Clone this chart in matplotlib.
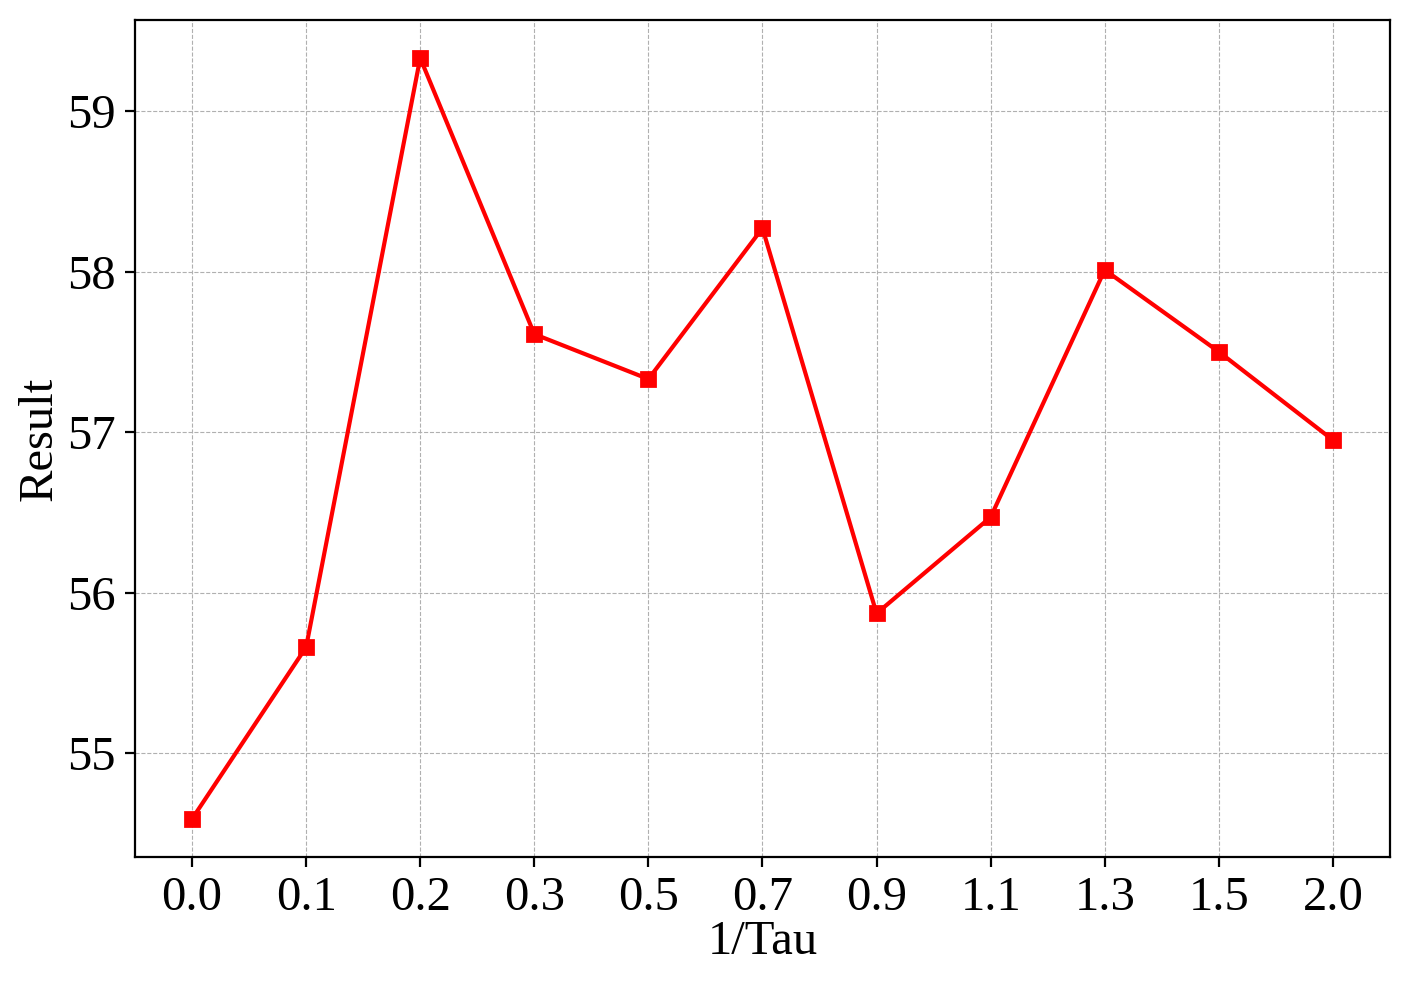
import matplotlib
matplotlib.use('Agg')
import matplotlib.pyplot as plt

plt.rcParams['font.family'] = 'serif'
plt.rcParams['font.serif'] = ['Liberation Serif', 'Times New Roman', 'DejaVu Serif']

# data
tau_labels = ['0.0', '0.1', '0.2', '0.3', '0.5', '0.7', '0.9', '1.1', '1.3', '1.5', '2.0']
results = [54.59, 55.66, 59.33, 57.61, 57.33, 58.27, 55.87, 56.47, 58.01, 57.50, 56.95]

fig = plt.figure(figsize=(7.06, 4.94), dpi=200)
ax = fig.add_axes([0.0956, 0.1326, 0.8888, 0.8472])

x = list(range(len(tau_labels)))
ax.plot(x, results, color='red', marker='s', markersize=5, linewidth=1.5)

ax.set_xticks(x)
ax.set_xticklabels(tau_labels)
ax.set_yticks([55, 56, 57, 58, 59])
ax.tick_params(labelsize=17.5)
ax.set_xlabel('1/Tau', fontsize=17.5, labelpad=0)
ax.set_ylabel('Result', fontsize=17.5, labelpad=2)
ax.grid(True, linestyle='--', linewidth=0.4, color='#b0b0b0')
ax.set_axisbelow(True)

fig.savefig('out.png', dpi=200)
